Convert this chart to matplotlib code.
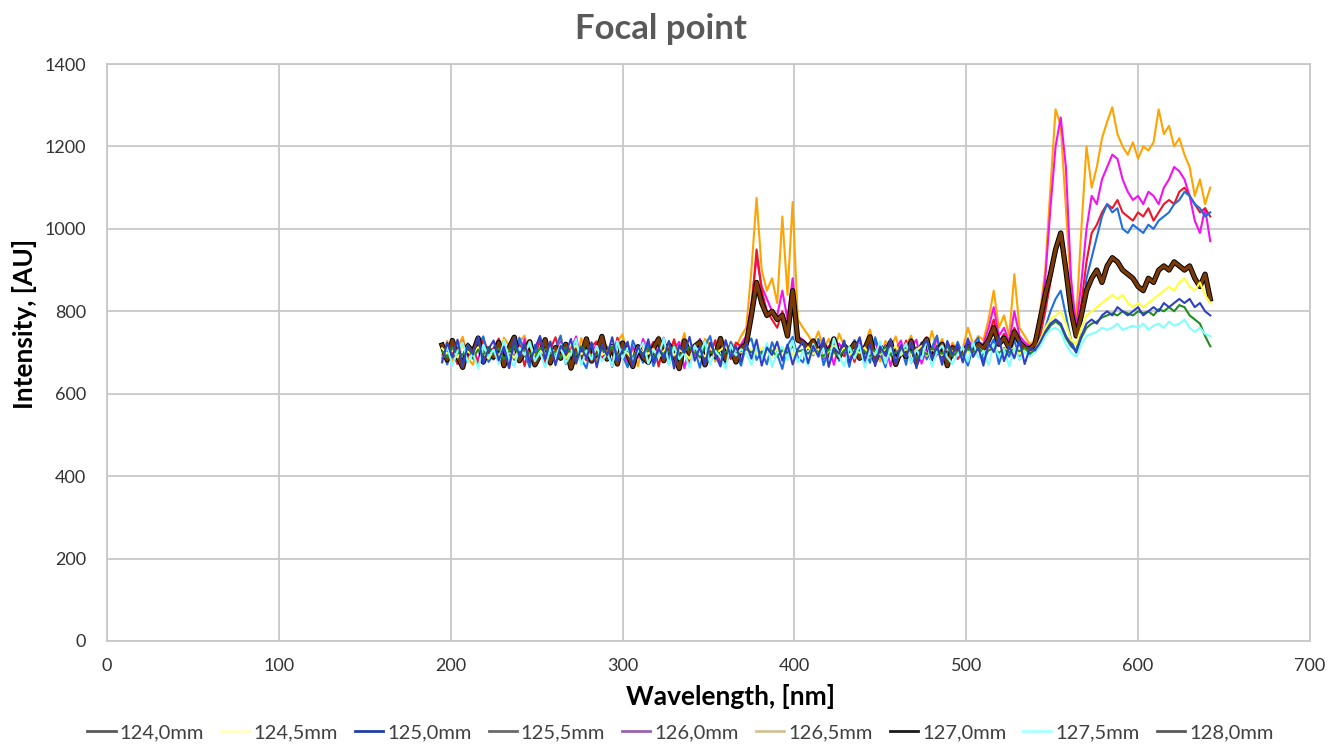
"""
Focal point scan: spectra recorded at nine focus positions.
"""

import numpy as np
import matplotlib
matplotlib.use('Agg')
import matplotlib.pyplot as plt
import matplotlib.patheffects as pe
from matplotlib.lines import Line2D
from matplotlib.ticker import MultipleLocator

# wavelength grid of the recorded spectra (nm)
WL_START = 195
WL_STEP = 3
N_POINTS = 150

LABELS = ['124,0mm', '124,5mm', '125,0mm', '125,5mm', '126,0mm',
          '126,5mm', '127,0mm', '127,5mm', '128,0mm']

# intensities [AU], 10 values per row (195 nm ... 642 nm)
I_124_0 = """
685 719 702 672 727 690 713 668 731 698
711 734 679 705 688 722 667 716 693 728
674 708 737 686 713 670 724 699 681 715
727 683 710 671 736 694 718 675 709 688
703 726 666 719 691 732 680 712 673 706
688 717 695 730 677 709 684 724 715 730
800 950 850 800 780 760 800 760 820 730
720 709 723 697 716 682 728 703 691 714
677 721 698 733 684 711 669 726 702 690
729 675 712 694 737 681 708 722 686 717
684 700 720 705 715 710 740 780 725 745
715 760 730 715 705 715 740 800 870 950
980 890 790 740 820 920 990 1010 1040 1060
1050 1070 1040 1030 1020 1040 1030 1050 1020 1040
1060 1070 1060 1090 1100 1080 1060 1040 1050 1030
"""

I_124_5 = """
710 697 705 688 716 702 694 713 699 685
706 692 714 700 687 709 703 719 691 705
693 712 699 708 685 703 717 696 704 690
711 694 702 716 689 707 698 683 712 700
697 709 688 704 718 693 706 699 685 712
702 690 711 697 706 715 693 704 700 712
706 697 713 700 691 709 702 715 694 707
700 713 696 708 690 703 716 697 711 694
707 699 712 688 704 695 710 702 716 693
709 697 705 716 692 708 700 694 713 702
698 710 703 694 712 700 707 715 698 709
703 712 696 707 700 705 730 760 780 790
800 770 730 720 760 790 800 810 820 830
840 830 840 820 810 820 810 820 830 840
850 860 850 870 880 860 850 870 840 820
"""

I_125_0 = """
712 671 733 690 661 722 685 716 739 677
695 728 668 713 682 736 700 664 719 687
730 679 711 741 672 703 727 684 662 718
689 734 706 670 721 693 664 729 700 675
723 667 698 735 681 714 676 731 690 708
663 716 740 684 709 673 726 695 668 720
734 682 703 671 725 696 660 717 738 688
676 720 693 733 669 707 726 680 714 665
730 688 711 675 737 697 664 722 685 716
670 733 699 724 683 712 741 676 703 687
726 694 668 717 736 679 707 732 672 711
690 731 683 719 695 712 730 760 800 830
850 790 730 700 770 880 930 980 1030 1060
1040 1050 1000 990 1010 1000 990 1010 1000 1020
1030 1040 1060 1070 1090 1080 1060 1050 1030 1040
"""

I_125_5 = """
703 689 712 700 694 718 686 707 695 713
697 710 684 703 716 692 705 699 688 711
708 696 703 687 712 700 693 715 702 689
694 707 699 715 690 703 712 686 708 697
711 688 705 696 702 716 691 704 713 700
690 714 699 706 693 701 711 697 704 708
700 709 695 712 704 690 706 699 715 702
706 697 713 700 691 708 702 689 705 714
696 711 702 690 707 699 714 693 700 708
712 701 688 706 695 710 703 697 716 691
702 694 709 700 713 696 705 710 699 707
700 709 703 711 698 705 720 745 765 775
765 735 715 705 735 760 770 775 785 790
795 790 800 795 790 800 795 800 790 805
800 810 800 815 810 790 780 770 740 715
"""

I_126_0 = """
716 672 729 693 668 721 704 680 735 697
683 725 701 663 719 688 733 676 710 738
670 712 694 727 681 706 739 674 718 691
724 686 714 665 730 699 677 715 688 733
678 720 697 736 671 708 726 662 711 694
733 680 707 723 669 715 690 702 720 740
820 930 860 830 800 790 850 780 880 740
730 718 698 731 684 716 670 722 701 678
712 735 674 703 726 689 718 667 708 729
686 714 731 673 709 694 737 680 721 697
712 705 730 715 725 720 760 810 740 760
725 800 740 725 715 720 780 880 1050 1200
1270 1150 880 760 870 1000 1080 1060 1120 1150
1180 1170 1120 1090 1070 1080 1060 1090 1080 1060
1100 1120 1150 1140 1120 1080 1020 990 1050 970
"""

I_126_5 = """
694 728 677 713 738 686 670 721 733 699
708 675 736 717 684 725 741 680 712 693
729 668 706 740 681 714 672 735 697 720
679 737 712 671 726 744 688 709 666 731
715 682 739 696 674 728 703 747 679 712
691 733 716 678 737 700 724 713 740 760
900 1075 900 850 880 820 1030 840 1065 780
760 742 721 751 708 733 697 746 716 690
731 684 719 756 702 678 728 711 739 693
718 741 682 725 699 752 707 733 688 724
706 710 760 720 740 730 780 850 760 790
740 890 760 740 720 730 800 900 1100 1290
1250 1050 850 780 1000 1200 1100 1150 1220 1260
1295 1230 1200 1180 1210 1170 1200 1190 1210 1290
1230 1250 1200 1220 1180 1150 1080 1120 1060 1100
"""

I_127_0 = """
718 682 729 691 664 716 700 735 677 709
689 724 668 711 737 680 703 726 670 694
731 675 712 686 720 662 707 690 733 679
701 739 684 715 672 723 695 666 714 688
676 710 733 680 719 693 661 728 698 715
725 670 706 691 734 683 712 677 710 720
790 870 820 790 800 780 790 740 850 730
725 712 728 700 718 694 733 690 716 703
722 686 709 738 680 714 697 725 671 707
690 727 676 712 732 685 703 720 668 711
705 700 715 700 720 710 730 760 720 735
710 750 725 712 708 720 780 840 890 950
990 900 800 740 790 850 880 900 870 910
930 920 900 890 880 860 850 880 870 900
910 900 920 910 900 910 880 860 890 830
"""

I_127_5 = """
681 714 668 703 725 676 698 662 719 690
707 672 731 685 666 712 694 726 679 701
664 709 688 720 674 697 733 670 705 683
716 678 699 667 728 686 711 680 702 724
673 706 690 735 669 714 684 700 663 717
695 727 671 704 688 661 718 693 708 698
670 712 686 723 665 700 715 682 729 676
704 668 721 689 710 676 734 692 667 713
685 719 663 706 694 727 673 711 681 699
722 675 708 684 730 666 701 717 688 672
696 713 678 725 687 704 669 720 691 707
666 711 683 702 690 700 715 740 755 760
750 720 700 690 720 740 745 750 760 755
760 770 755 760 765 760 770 755 765 770
760 775 765 770 780 760 750 760 745 740
"""

I_128_0 = """
676 724 688 731 667 718 695 738 672 709
729 681 714 662 735 690 721 677 708 740
684 727 669 716 698 733 674 712 687 725
664 719 693 737 679 705 726 668 715 690
732 675 710 686 728 661 717 699 738 680
713 671 724 694 666 730 689 715 678 722
685 731 668 712 694 726 680 719 671 708
727 674 716 690 735 665 711 697 729 676
703 737 681 720 667 714 692 733 673 718
688 725 662 709 731 684 716 670 728 695
719 676 734 689 712 668 723 701 737 679
714 686 729 672 710 705 725 750 770 780
770 740 720 700 740 770 780 770 790 800
790 810 800 790 800 810 790 800 810 800
820 810 820 830 820 830 810 820 800 790
"""


def parse(block):
    vals = np.array(block.split(), dtype=float)
    assert vals.size == N_POINTS
    return vals


def main():
    plt.rcParams['font.family'] = ['Lato', 'DejaVu Sans']

    wl = WL_START + WL_STEP * np.arange(N_POINTS)
    series = dict(zip(LABELS, [parse(b) for b in (
        I_124_0, I_124_5, I_125_0, I_125_5, I_126_0,
        I_126_5, I_127_0, I_127_5, I_128_0)]))

    # colours as they show up in the plot area
    line_colors = {
        '126,5mm': '#ffa300',
        '126,0mm': '#f410f0',
        '124,0mm': '#f01428',
        '125,0mm': '#1d6ee0',
        '127,0mm': '#7a3a08',
        '124,5mm': '#ffff3c',
        '125,5mm': '#1e8c1e',
        '127,5mm': '#80ffff',
        '128,0mm': '#3040c4',
    }
    # the legend swatches are paler
    legend_colors = ['#595959', '#ffffc4', '#1f3ea8', '#6a6a6a', '#9a62b0',
                     '#d4c39a', '#1a1a1a', '#a8ffff', '#595959']

    fig = plt.figure(figsize=(13.42, 7.46), dpi=100)
    ax = fig.add_axes([0.0797, 0.1408, 0.8964, 0.7734])

    draw_order = ['126,5mm', '126,0mm', '124,0mm', '125,0mm', '127,0mm',
                  '124,5mm', '125,5mm', '127,5mm', '128,0mm']
    for z, name in enumerate(draw_order):
        kw = dict(color=line_colors[name], linewidth=1.5, zorder=3 + z)
        if name == '127,0mm':
            kw['linewidth'] = 2.4
            kw['path_effects'] = [pe.Stroke(linewidth=3.8, foreground='black'),
                                  pe.Normal()]
        ax.plot(wl, series[name], **kw)

    ax.set_xlim(0, 700)
    ax.set_ylim(0, 1400)
    ax.xaxis.set_major_locator(MultipleLocator(100))
    ax.yaxis.set_major_locator(MultipleLocator(200))
    ax.grid(True, color='#c8c8c8', linewidth=1.3, zorder=0)
    ax.set_axisbelow(True)
    for sp in ax.spines.values():
        sp.set_color('#c8c8c8')
        sp.set_linewidth(1.3)
    ax.tick_params(length=0, labelsize=13, colors='#333333')
    ax.tick_params(axis='y', pad=15)
    ax.tick_params(axis='x', pad=12)

    ax.set_xlabel('Wavelength, [nm]', fontsize=19, fontweight='bold')
    ax.xaxis.set_label_coords(0.518, -0.075)
    ax.set_ylabel('Intensity, [AU]', fontsize=19, fontweight='bold')
    ax.yaxis.set_label_coords(-0.058, 0.55)
    fig.suptitle('Focal point', fontsize=25, fontweight='bold',
                 color='#595959', x=0.4925, y=0.982)

    handles = [Line2D([], [], color=c, linewidth=2) for c in legend_colors]
    fig.legend(handles, LABELS, loc='lower center', ncol=9, frameon=False,
               fontsize=14.5, handlelength=1.4, handletextpad=0.2,
               columnspacing=0.85, bbox_to_anchor=(0.507, -0.018),
               labelcolor='#404040')

    fig.savefig('out.png', dpi=100)
    plt.close(fig)


if __name__ == '__main__':
    main()
